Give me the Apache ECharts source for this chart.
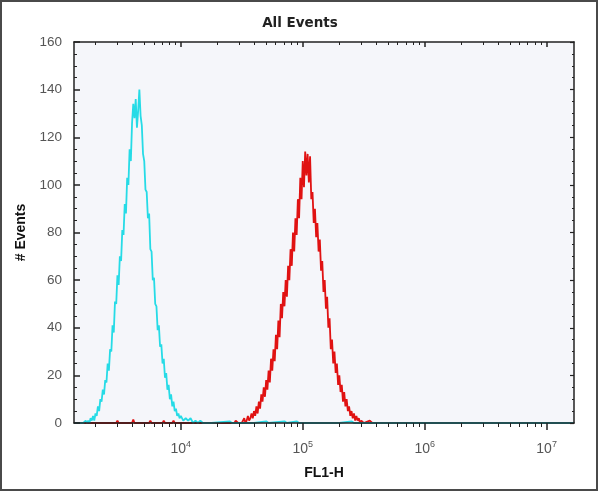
<!DOCTYPE html>
<html><head><meta charset="utf-8">
<script src="https://cdn.jsdelivr.net/npm/echarts@6/dist/echarts.min.js"></script>
<style>html,body{margin:0;padding:0;background:#fff}#c{width:600px;height:492px}</style>
</head><body><div id="c"></div>
<script>
// ---- axis ranges / ticks ----
const xMinValue = 1330;          // FL1-H at left edge
const xMaxValue = 16777215;      // FL1-H at right edge (10^7.22)
const decadeExponents = [4, 5, 6, 7];
const minorTickValues = [2000,3000,4000,5000,6000,7000,8000,9000,
  20000,30000,40000,50000,60000,70000,80000,90000,
  200000,300000,400000,500000,600000,700000,800000,900000,
  2000000,3000000,4000000,5000000,6000000,7000000,8000000,9000000];
const yMin = 0, yMax = 160, yStep = 20;

// ---- cyan histogram (log10 FL1-H, # events) ----
const cyanLog = [3.124,3.20,3.22,3.23,3.24,3.25,3.26,3.27,3.28,3.29,3.30,3.31,3.32,3.33,3.34,3.35,3.36,3.37,3.38,3.39,
  3.40,3.41,3.42,3.43,3.44,3.45,3.46,3.47,3.48,3.49,3.50,3.51,3.52,3.53,3.54,3.55,3.56,3.57,3.58,3.59,
  3.60,3.61,3.62,3.63,3.64,3.65,3.66,3.67,3.68,3.69,3.70,3.71,3.72,3.73,3.74,3.75,3.76,3.77,3.78,3.79,
  3.80,3.81,3.82,3.83,3.84,3.85,3.86,3.87,3.88,3.89,3.90,3.91,3.92,3.93,3.94,3.95,3.96,3.97,3.98,3.99,
  4.00,4.02,4.04,4.06,4.08,4.10,4.12,4.14,4.16,4.18,4.25,4.40,4.42,4.60,4.70,4.72,4.85,4.87,4.95,4.97,
  5.30,5.40,5.42,7.2247];
const cyanCount = [0,0,1,0,1,0,2,1,3,1,4,3,7,5,10,9,14,12,18,17,
  25,22,31,30,41,38,51,50,62,58,70,68,81,79,92,88,103,100,115,110,
  126,134,128,136,124,131,140,129,125,113,110,98,97,86,88,73,72,60,61,50,
  49,39,41,32,33,25,27,19,21,14,16,10,12,7,9,5,6,3,4,2,
  3,1,2,1,2,0,1,0,1,0,0,0.7,0,0,0.7,0,0.7,0,0.7,0,
  0,0.7,0,0];

// ---- red histogram (log10 FL1-H, # events) ----
const redLog = [3.124,3.47,3.48,3.49,3.60,3.61,3.62,3.74,3.75,3.76,3.85,3.86,3.87,3.93,3.94,3.95,4.20,4.44,4.45,4.47,
  4.50,4.52,4.53,4.54,4.55,4.56,4.57,4.58,4.59,4.60,4.61,4.62,4.63,4.64,4.65,4.66,4.67,4.68,4.69,
  4.70,4.71,4.72,4.73,4.74,4.75,4.76,4.77,4.78,4.79,4.80,4.81,4.82,4.83,4.84,4.85,4.86,4.87,4.88,4.89,
  4.90,4.91,4.92,4.93,4.94,4.95,4.96,4.97,4.98,4.99,5.00,5.01,5.02,5.03,5.04,5.05,5.06,5.07,5.08,5.09,
  5.10,5.11,5.12,5.13,5.14,5.15,5.16,5.17,5.18,5.19,5.20,5.21,5.22,5.23,5.24,5.25,5.26,5.27,5.28,5.29,
  5.30,5.31,5.32,5.33,5.34,5.35,5.36,5.37,5.38,5.39,5.40,5.41,5.42,5.43,5.44,5.45,5.46,5.47,5.48,5.50,
  5.55,5.57,7.2247];
const redCount = [0,0,1,0,0,1.5,0,0,1,0,0,1,0,0,1,0,0,0,1,0,
  0,2,0,1,3,1,2,4,2,5,3,7,4,9,6,12,9,15,11,
  18,14,22,17,27,22,31,26,37,31,43,36,50,44,55,49,60,53,66,60,
  73,66,80,72,86,79,94,86,103,94,110,99,114,104,113,101,112,94,97,84,
  90,78,84,72,77,64,68,55,60,48,53,40,44,31,35,25,30,21,25,16,
  20,13,16,9,13,7,10,5,7,3,5,2,4,1,3,1,2,0,1,0,
  1,0,0];

const chart = echarts.init(document.getElementById('c'), null, {renderer: 'canvas'});
const xMin = Math.log10(xMinValue), xMax = Math.log10(xMaxValue);
const minorLog = minorTickValues.map(v => Math.log10(v));
const axisColor = '#222';
const font = 'Liberation Sans, Arial, sans-serif';

function baseX(extra) {
  return Object.assign({
    type: 'value', min: xMin, max: xMax, splitLine: {show: false},
    axisLine: {show: false, onZero: false}
  }, extra);
}

chart.setOption({
  animation: false,
  backgroundColor: '#ffffff',
  title: {
    text: 'All Events', left: 'center', top: 11,
    textStyle: {fontFamily: 'DejaVu Sans, sans-serif', fontWeight: 'bold', fontSize: 13.5, color: '#222'}
  },
  graphic: [{
    type: 'rect', shape: {x: 1, y: 1, width: 596, height: 489},
    style: {fill: 'none', stroke: '#4a4a4a', lineWidth: 2}, silent: true
  }],
  grid: {left: 74, right: 26, top: 42, bottom: 69, show: true, backgroundColor: '#f5f6fa', borderWidth: 0},
  xAxis: [
    baseX({
      position: 'bottom', z: 5,
      axisLine: {show: true, onZero: false, lineStyle: {color: axisColor, width: 1.5}},
      axisTick: {show: true, customValues: decadeExponents, length: 7, lineStyle: {color: axisColor, width: 1.5}},
      axisLabel: {
        customValues: decadeExponents, margin: 17,
        formatter: v => '{b|10}{s|' + Math.round(v) + '}',
        rich: {
          b: {fontFamily: font, fontSize: 14, color: '#555', lineHeight: 16, verticalAlign: 'bottom'},
          s: {fontFamily: font, fontSize: 9, color: '#555', lineHeight: 10, verticalAlign: 'top'}
        }
      },
      name: 'FL1-H', nameLocation: 'middle', nameGap: 43,
      nameTextStyle: {fontFamily: font, fontWeight: 'bold', fontSize: 14, color: '#111'}
    }),
    baseX({
      position: 'bottom', z: 5,
      axisTick: {show: true, customValues: minorLog, length: 4, lineStyle: {color: axisColor, width: 1}},
      axisLabel: {show: false}
    }),
    baseX({
      position: 'top', z: 5,
      axisLine: {show: true, onZero: false, lineStyle: {color: axisColor, width: 1.5}},
      axisTick: {show: true, inside: true, customValues: decadeExponents, length: 5, lineStyle: {color: axisColor, width: 1.5}},
      axisLabel: {show: false}
    }),
    baseX({
      position: 'top', z: 5,
      axisTick: {show: true, inside: true, customValues: minorLog, length: 3, lineStyle: {color: axisColor, width: 1}},
      axisLabel: {show: false}
    })
  ],
  yAxis: [
    {
      type: 'value', position: 'left', min: yMin, max: yMax, interval: yStep, z: 5,
      splitLine: {show: false},
      axisLine: {show: true, onZero: false, lineStyle: {color: axisColor, width: 1.5}},
      axisTick: {show: true, inside: true, length: 6, lineStyle: {color: axisColor, width: 1.5}},
      minorTick: {show: true, splitNumber: 4, length: 3, lineStyle: {color: axisColor, width: 1}},
      axisLabel: {margin: 12, fontFamily: font, fontSize: 13.5, color: '#555'},
      name: '# Events', nameLocation: 'middle', nameGap: 46, nameRotate: 90,
      nameTextStyle: {fontFamily: font, fontWeight: 'bold', fontSize: 14, color: '#111'}
    },
    {
      type: 'value', position: 'right', min: yMin, max: yMax, interval: yStep, z: 5,
      splitLine: {show: false},
      axisLine: {show: true, onZero: false, lineStyle: {color: axisColor, width: 1.5}},
      axisTick: {show: true, inside: true, length: 4, lineStyle: {color: axisColor, width: 1.2}},
      minorTick: {show: true, splitNumber: 4, length: 2, lineStyle: {color: axisColor, width: 1}},
      axisLabel: {show: false}
    }
  ],
  series: [
    {
      type: 'line', xAxisIndex: 0, yAxisIndex: 0, z: 2,
      data: redLog.map((x, i) => [x, redCount[i]]),
      showSymbol: false, symbol: 'none',
      lineStyle: {color: '#e01212', width: 1.8}
    },
    {
      type: 'line', xAxisIndex: 0, yAxisIndex: 0, z: 3,
      data: cyanLog.map((x, i) => [x, cyanCount[i]]),
      showSymbol: false, symbol: 'none',
      lineStyle: {color: '#26dbe6', width: 1.8}
    }
  ]
});
</script>
</body></html>
